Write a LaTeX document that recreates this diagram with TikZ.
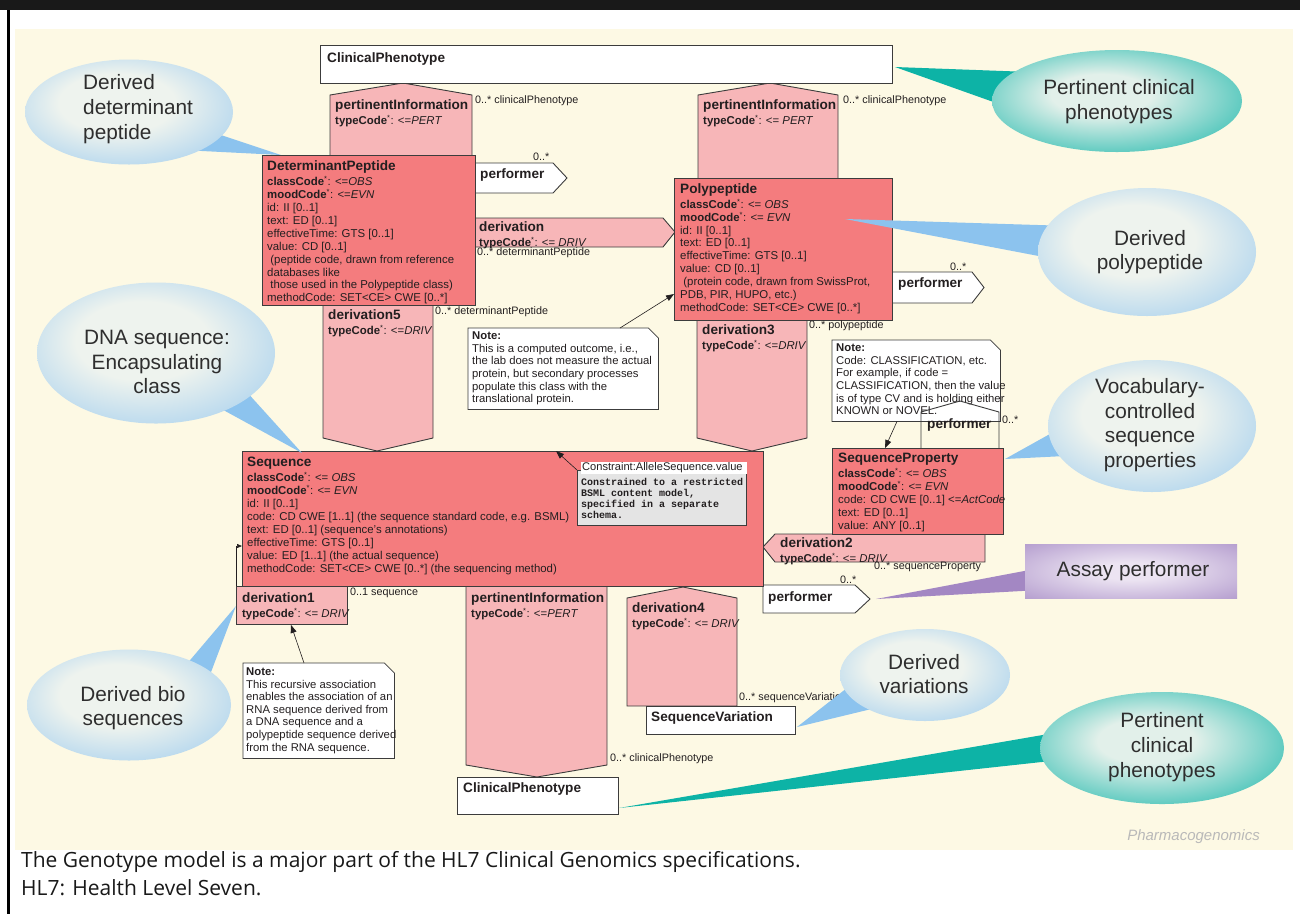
\documentclass[tikz,border=0pt]{standalone}
\usepackage{fontspec}
\setmainfont{Liberation Sans}
\setmonofont{Liberation Mono}
\newfontfamily\capfont{Open Sans}
\usetikzlibrary{positioning}
\usetikzlibrary{arrows.meta}
\usetikzlibrary{shapes.geometric}

\definecolor{cream}{HTML}{FDF9E4}
\definecolor{clsred}{HTML}{F47C7E}
\definecolor{assocpink}{HTML}{F7B6B8}
\definecolor{edgegray}{HTML}{3C3C3C}
\definecolor{ink}{HTML}{231F20}
\definecolor{notegray}{HTML}{E4E4E4}
\definecolor{blueout}{HTML}{8CC3EE}
\definecolor{bluein}{HTML}{EEF3EE}
\definecolor{tealout}{HTML}{0DB3A6}
\definecolor{tealin}{HTML}{E2F0EA}
\definecolor{purpout}{HTML}{A387C3}
\definecolor{purpin}{HTML}{ECE4F2}
\definecolor{bubink}{HTML}{2E2E2E}
\definecolor{markgray}{HTML}{B9B9B9}

\pgfdeclareradialshading{bluebubble}{\pgfpoint{-4bp}{6bp}}{color(0bp)=(bluein); color(14bp)=(bluein); color(42bp)=(blueout); color(50bp)=(blueout)}
\pgfdeclareradialshading{tealbubble}{\pgfpoint{-4bp}{4bp}}{color(0bp)=(tealin); color(10bp)=(tealin); color(38bp)=(tealout); color(50bp)=(tealout)}
\pgfdeclareradialshading{purpbubble}{\pgfpoint{0bp}{0bp}}{color(0bp)=(purpin); color(8bp)=(purpin); color(45bp)=(purpout); color(50bp)=(purpout)}

\newcommand{\cname}[1]{{\fontsize{13.6}{15}\selectfont\bfseries #1}}
\newcommand{\kw}[1]{\textbf{#1}\textsuperscript{\fontsize{7.5}{7.5}\selectfont *}}

\tikzset{
    clsbox/.style = {draw=edgegray, fill=clsred, line width=0.9pt, inner sep=0pt, anchor=north west},
    plainbox/.style = {draw=edgegray, fill=white, line width=0.9pt, inner sep=0pt, anchor=north west},
    assocbox/.style = {draw=edgegray, fill=assocpink, line width=0.9pt, inner sep=0pt, anchor=north west},
    assoc/.style = {draw=edgegray, fill=assocpink, line width=0.9pt},
    perf/.style = {draw=edgegray, fill=white, line width=0.9pt},
    body/.style = {anchor=north west, inner sep=0pt, align=left, text=ink, font=\fontsize{11.4}{12.9}\selectfont},
    notetext/.style = {anchor=north west, inner sep=0pt, align=left, text=ink, font=\fontsize{11.3}{12.6}\selectfont},
    notearea/.style = {anchor=north west, inner sep=0pt},
    notefill/.style = {draw=edgegray, fill=white, line width=0.7pt},
    mult/.style = {anchor=west, inner sep=0pt, text=ink, font=\fontsize{10.8}{12}\selectfont},
    link/.style = {draw=ink, line width=0.6pt, -{Triangle[length=8pt,width=6pt]}},
    bubble/.style = {ellipse, shade, inner sep=0pt},
    bubtext/.style = {inner sep=0pt, align=center, text=bubink, font=\fontsize{20.8}{24.7}\selectfont},
    captext/.style = {anchor=west, inner sep=0pt, text=black!90, font=\capfont\fontsize{21}{24}\selectfont},
}

\begin{document}
\begin{tikzpicture}[x=1pt, y=-1pt]
    \useasboundingbox (0,0) rectangle (1300,914);
    \fill[white] (0,0) rectangle (1300,914);
    \fill[black!90] (0,0) rectangle (1300,10);
    \fill[cream] (15,29) rectangle (1293,850);
    \draw[line width=2.5pt] (8.5,10) -- (8.5,914);

    % association shapes
    \draw[assoc] (330,156) -- (330,95) -- (403,83) -- (472,95) -- (472,156) -- cycle;
    \draw[assoc] (698,179) -- (698,95) -- (770,83) -- (838,95) -- (838,179) -- cycle;
    \draw[assoc] (474,218) -- (663,218) -- (675,232) -- (663,247) -- (474,247) -- cycle;
    \draw[assoc] (323,304) -- (433,304) -- (433,438) -- (377,451) -- (323,438) -- cycle;
    \draw[assoc] (697,319) -- (807,319) -- (807,438) -- (752,451) -- (697,438) -- cycle;
    \draw[assoc] (763,547) -- (775,534) -- (985,534) -- (985,562) -- (775,562) -- cycle;
    \draw[assoc] (466,586) -- (607,586) -- (607,765) -- (537,777) -- (466,765) -- cycle;
    \draw[assoc] (627,706) -- (627,598) -- (683,587) -- (737,598) -- (737,706) -- cycle;
    \node[assocbox, minimum width=111, minimum height=38] (deriv1) at (236,586) {};

    % performers
    \draw[perf] (475,163) -- (553,163) -- (567,178) -- (553,193) -- (475,193) -- cycle;
    \draw[perf] (892,272) -- (972,272) -- (984,287.5) -- (972,303) -- (892,303) -- cycle;
    \draw[perf] (763,585) -- (855,585) -- (870,599) -- (855,613) -- (763,613) -- cycle;

    % classes
    \node[plainbox, minimum width=572, minimum height=38] (cptop) at (320,45) {};
    \node[clsbox, minimum width=213, minimum height=150] (detpep) at (262,155) {};
    \node[clsbox, minimum width=218, minimum height=142] (polypep) at (674,178) {};
    \node[clsbox, minimum width=521, minimum height=135] (seq) at (242,451) {};
    \node[clsbox, minimum width=171, minimum height=86] (seqprop) at (832,448) {};
    \node[plainbox, minimum width=161, minimum height=37] (cpbot) at (457,777) {};
    \node[plainbox, minimum width=149, minimum height=28] (seqvar) at (646,706) {};

    \node[body] (cptoptxt) at (327,52) {\cname{ClinicalPhenotype}};
    \node[body] (cpbottxt) at (463,782) {\cname{ClinicalPhenotype}};
    \node[body] (seqvartxt) at (651,711) {\cname{SequenceVariation}};
    \node[body] (detpeptxt) at (267,160.5) {\cname{DeterminantPeptide}\\[2.3pt]
        \kw{classCode}: <=\textit{OBS}\\
        \kw{moodCode}: <=\textit{EVN}\\
        id: II [0..1]\\
        text: ED [0..1]\\
        effectiveTime: GTS [0..1]\\
        value: CD [0..1]\\
        \ (peptide code, drawn from reference\\
        databases like\\
        \ those used in the Polypeptide class)\\
        methodCode: SET<CE> CWE [0..*]};
    \node[body] (polypeptxt) at (680,183) {\cname{Polypeptide}\\[2.3pt]
        \kw{classCode}: <= \textit{OBS}\\
        \kw{moodCode}: <= \textit{EVN}\\
        id: II [0..1]\\
        text: ED [0..1]\\
        effectiveTime: GTS [0..1]\\
        value: CD [0..1]\\
        \ (protein code, drawn from SwissProt,\\
        PDB, PIR, HUPO, etc.)\\
        methodCode: SET<CE> CWE [0..*]};
    \node[body] (seqtxt) at (247,457) {\cname{Sequence}\\[2.3pt]
        \kw{classCode}: <= \textit{OBS}\\
        \kw{moodCode}: <= \textit{EVN}\\
        id: II [0..1]\\
        code: CD CWE [1..1] (the sequence standard code, e.g. BSML)\\
        text: ED [0..1] (sequence's annotations)\\
        effectiveTime: GTS [0..1]\\
        value: ED [1..1] (the actual sequence)\\
        methodCode: SET<CE> CWE [0..*] (the sequencing method)};
    \node[body] (seqproptxt) at (838,453) {\cname{SequenceProperty}\\[2.3pt]
        \kw{classCode}: <= \textit{OBS}\\
        \kw{moodCode}: <= \textit{EVN}\\
        code: CD CWE [0..1] <=\textit{ActCode}\\
        text: ED [0..1]\\
        value: ANY [0..1]};

    % association labels
    \node[body] (pertAtxt) at (335,99) {\cname{pertinentInformation}\\[2.3pt] \kw{typeCode}: <=\textit{PERT}};
    \node[body] (pertBtxt) at (703,99) {\cname{pertinentInformation}\\[2.3pt] \kw{typeCode}: <= \textit{PERT}};
    \node[body] (pertCtxt) at (471,592) {\cname{pertinentInformation}\\[2.3pt] \kw{typeCode}: <=\textit{PERT}};
    \node[body] (derivtxt) at (479,221) {\cname{derivation}\\[2.3pt] \kw{typeCode}: <= \textit{DRIV}};
    \node[body] (deriv5txt) at (328,309) {\cname{derivation5}\\[2.3pt] \kw{typeCode}: <=\textit{DRIV}};
    \node[body] (deriv3txt) at (702,324) {\cname{derivation3}\\[2.3pt] \kw{typeCode}: <=\textit{DRIV}};
    \node[body] (deriv2txt) at (780,537) {\cname{derivation2}\\[2.3pt] \kw{typeCode}: <= \textit{DRIV}};
    \node[body] (deriv1txt) at (242,592) {\cname{derivation1}\\[2.3pt] \kw{typeCode}: <= \textit{DRIV}};
    \node[body] (deriv4txt) at (632,602) {\cname{derivation4}\\[2.3pt] \kw{typeCode}: <= \textit{DRIV}};
    \node[body] (perfAtxt) at (480,168) {\cname{performer}};
    \node[body] (perfBtxt) at (898,277) {\cname{performer}};
    \node[body] (perfCtxt) at (768,591) {\cname{performer}};

    % notes
    \node[notearea, minimum width=190, minimum height=81] (note1) at (468,328) {};
    \draw[notefill] (note1.north west) -- ([xshift=-10pt]note1.north east) -- ([yshift=-10pt]note1.north east)
        -- (note1.south east) -- (note1.south west) -- cycle;
    \node[notetext] (note1txt) at (472,331.8) {\textbf{Note:}\\
        This is a computed outcome, i.e.,\\
        the lab does not measure the actual\\
        protein, but secondary processes\\
        populate this class with the\\
        translational protein.};
    \node[notearea, minimum width=168, minimum height=81] (note2) at (832,340) {};
    \draw[notefill] (note2.north west) -- ([xshift=-10pt]note2.north east) -- ([yshift=-10pt]note2.north east)
        -- (note2.south east) -- (note2.south west) -- cycle;
    \node[notetext] (note2txt) at (836,343.8) {\textbf{Note:}\\
        Code: CLASSIFICATION, etc.\\
        For example, if code =\\
        CLASSIFICATION, then the value\\
        is of type CV and is holding either\\
        KNOWN or NOVEL.};
    \node[notearea, minimum width=151, minimum height=95] (note3) at (243,663) {};
    \draw[notefill] (note3.north west) -- ([xshift=-10pt]note3.north east) -- ([yshift=-10pt]note3.north east)
        -- (note3.south east) -- (note3.south west) -- cycle;
    \node[notetext] (note3txt) at (246,667.5) {\textbf{Note:}\\
        This recursive association\\
        enables the association of an\\
        RNA sequence derived from\\
        a DNA sequence and a\\
        polypeptide sequence derived\\
        from the RNA sequence.};

    % constraint
    \node[notearea, draw=edgegray, fill=notegray, line width=0.7pt, minimum width=169, minimum height=55] (cons) at (577,470) {};
    \node[anchor=north west, fill=white, inner sep=0pt, minimum width=166, minimum height=11.5] (conshead) at (581,462) {};
    \node[anchor=west, inner sep=0pt, text=ink, font=\fontsize{11.1}{12}\selectfont] (consheadtxt) at (582,467.5) {Constraint:AlleleSequence.value};
    \node[anchor=north west, inner sep=0pt, align=left, text=ink, font=\ttfamily\bfseries\fontsize{10}{11}\selectfont] (constxt) at (581,477.7)
        {Constrained to a restricted\\ BSML content model,\\ specified in a separate\\ schema.};

    % small performer over the note
    \draw[edgegray, line width=0.9pt] (921,448) -- (921,412) -- (960,401) -- (999,412) -- (999,448);
    \node[body] (perfDtxt) at (927,418) {\cname{performer}};

    % links
    \draw[link] ([xshift=152pt]note1.north west) -- ([yshift=-116pt]polypep.north west);
    \draw[link] ([xshift=65pt]note2.south west) -- ([xshift=53pt]seqprop.north west);
    \draw[link] ([xshift=61pt]note3.north west) -- ([xshift=55pt]deriv1.south west);
    \draw[link] (cons.north west) -- ([xshift=314pt]seq.north west);
    \draw[draw=ink, line width=0.6pt, -{Triangle[length=5pt,width=4pt]}] (deriv1.north west) |- ([yshift=-95pt]seq.north west);

    % multiplicities
    \node[mult] (mA) at (475,100.7) {0..* clinicalPhenotype};
    \node[mult] (mB) at (843,100.7) {0..* clinicalPhenotype};
    \node[mult] (mC) at (533,157) {0..*};
    \node[mult] (mD) at (477,252.7) {0..* determinantPeptide};
    \node[mult] (mE) at (435,312) {0..* determinantPeptide};
    \node[mult] (mF) at (950,267) {0..*};
    \node[mult] (mG) at (809,326) {0..* polypeptide};
    \node[mult] (mH) at (1002,420) {0..*};
    \node[mult] (mI) at (874,567) {0..* sequenceProperty};
    \node[mult] (mJ) at (840,580) {0..*};
    \node[mult] (mK) at (350,593) {0..1 sequence};
    \node[mult] (mL) at (739,698) {0..* sequenceVariation};
    \node[mult] (mM) at (610,759) {0..* clinicalPhenotype};

    % callouts
    \coordinate (tipA) at (281,155);
    \fill[blueout] (200,128) -- (tipA) -- (182,150) -- cycle;
    \node[bubble, shading=bluebubble, minimum width=208, minimum height=105] (bubA) at (129,112) {};
    \node[bubtext, align=left, anchor=west] (bubAtxt) at (83,109) {Derived\\determinant\\peptide};

    \coordinate (tipB) at (302,453);
    \fill[blueout] (205,400) -- (tipB) -- (245,390) -- cycle;
    \node[bubble, shading=bluebubble, minimum width=238, minimum height=141] (bubB) at (156,353) {};
    \node[bubtext] (bubBtxt) at (157,362) {DNA sequence:\\Encapsulating\\class};

    \coordinate (tipC) at (236,606);
    \fill[blueout] (180,672) -- (tipC) -- (205,688) -- cycle;
    \node[bubble, shading=bluebubble, minimum width=204, minimum height=111] (bubC) at (129,705) {};
    \node[bubtext] (bubCtxt) at (133,708) {Derived bio\\sequences};

    \coordinate (tipD) at (895,67);
    \fill[tealout] (1030,72) -- (tipD) -- (1030,115) -- cycle;
    \node[bubble, shading=tealbubble, minimum width=250, minimum height=102] (bubD) at (1117,101) {};
    \node[bubtext] (bubDtxt) at (1119,101.5) {Pertinent clinical\\phenotypes};

    \coordinate (tipE) at (845,219);
    \fill[blueout] (1070,226) -- (tipE) -- (1070,262) -- cycle;
    \node[bubble, shading=bluebubble, minimum width=218, minimum height=128] (bubE) at (1147,252) {};
    \node[bubtext] (bubEtxt) at (1150,252) {Derived\\polypeptide};

    \coordinate (tipF) at (1005,459);
    \fill[blueout] (1075,420) -- (tipF) -- (1085,455) -- cycle;
    \node[bubble, shading=bluebubble, minimum width=208, minimum height=132] (bubF) at (1152,426) {};
    \node[bubtext] (bubFtxt) at (1150,425) {Vocabulary-\\controlled\\sequence\\properties};

    \coordinate (tipG) at (876,599);
    \fill[purpout] (1040,568) -- (tipG) -- (1040,590) -- cycle;
    \node[rectangle, shade, shading=purpbubble, inner sep=0pt, minimum width=212, minimum height=54] (bubG) at (1131,571) {};
    \node[bubtext] (bubGtxt) at (1133,571) {Assay performer};

    \coordinate (tipH) at (797,727);
    \fill[blueout] (870,670) -- (tipH) -- (888,705) -- cycle;
    \node[bubble, shading=bluebubble, minimum width=170, minimum height=92] (bubH) at (925,675) {};
    \node[bubtext] (bubHtxt) at (924,674) {Derived\\variations};

    \coordinate (tipI) at (619,808);
    \fill[tealout] (1060,732) -- (tipI) -- (1060,760) -- cycle;
    \node[bubble, shading=tealbubble, minimum width=244, minimum height=112] (bubI) at (1162,748) {};
    \node[bubtext] (bubItxt) at (1162,747) {Pertinent\\clinical\\phenotypes};

    % footer
    \node[anchor=east, inner sep=0pt, text=markgray, font=\fontsize{15}{18}\selectfont\itshape] (mark) at (1260,837) {Pharmacogenomics};
    \node[captext] (cap1) at (21,862) {The Genotype model is a major part of the HL7 Clinical Genomics specifications.};
    \node[captext] (cap2) at (21,888) {HL7: Health Level Seven.};
\end{tikzpicture}
\end{document}
